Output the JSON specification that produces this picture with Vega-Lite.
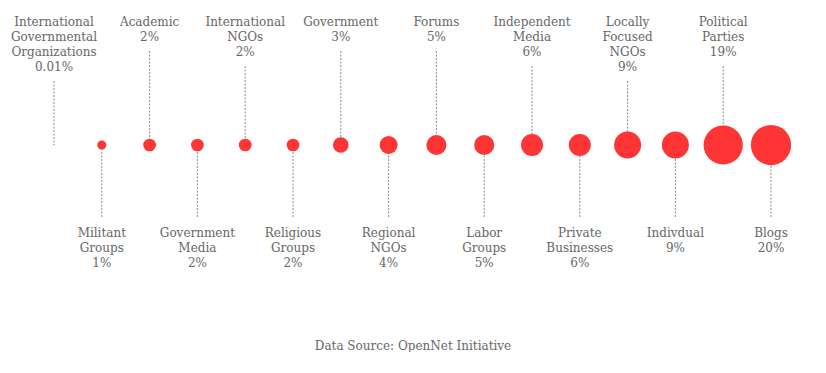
{
  "$schema": "https://vega.github.io/schema/vega-lite/v6.json",
  "width": 826,
  "height": 290,
  "padding": 0,
  "autosize": {"type": "pad"},
  "background": "white",
  "title": {
    "text": "Data Source: OpenNet Initiative",
    "orient": "bottom",
    "anchor": "middle",
    "offset": 51,
    "font": "DejaVu Serif",
    "fontSize": 12,
    "fontWeight": "normal",
    "color": "#666666"
  },
  "data": {
    "values": [
      {"rank": 1, "name": "International Governmental Organizations", "value": 0.01, "side": "top", "lines": ["International", "Governmental", "Organizations", "0.01%"]},
      {"rank": 2, "name": "Militant Groups", "value": 1, "side": "bottom", "lines": ["Militant", "Groups", "1%"]},
      {"rank": 3, "name": "Academic", "value": 2, "side": "top", "lines": ["Academic", "2%"]},
      {"rank": 4, "name": "Government Media", "value": 2, "side": "bottom", "lines": ["Government", "Media", "2%"]},
      {"rank": 5, "name": "International NGOs", "value": 2, "side": "top", "lines": ["International", "NGOs", "2%"]},
      {"rank": 6, "name": "Religious Groups", "value": 2, "side": "bottom", "lines": ["Religious", "Groups", "2%"]},
      {"rank": 7, "name": "Government", "value": 3, "side": "top", "lines": ["Government", "3%"]},
      {"rank": 8, "name": "Regional NGOs", "value": 4, "side": "bottom", "lines": ["Regional", "NGOs", "4%"]},
      {"rank": 9, "name": "Forums", "value": 5, "side": "top", "lines": ["Forums", "5%"]},
      {"rank": 10, "name": "Labor Groups", "value": 5, "side": "bottom", "lines": ["Labor", "Groups", "5%"]},
      {"rank": 11, "name": "Independent Media", "value": 6, "side": "top", "lines": ["Independent", "Media", "6%"]},
      {"rank": 12, "name": "Private Businesses", "value": 6, "side": "bottom", "lines": ["Private", "Businesses", "6%"]},
      {"rank": 13, "name": "Locally Focused NGOs", "value": 9, "side": "top", "lines": ["Locally", "Focused", "NGOs", "9%"]},
      {"rank": 14, "name": "Indivdual", "value": 9, "side": "bottom", "lines": ["Indivdual", "9%"]},
      {"rank": 15, "name": "Political Parties", "value": 19, "side": "top", "lines": ["Political", "Parties", "19%"]},
      {"rank": 16, "name": "Blogs", "value": 20, "side": "bottom", "lines": ["Blogs", "20%"]}
    ]
  },
  "encoding": {
    "x": {"field": "rank", "type": "quantitative", "scale": {"domain": [1, 16], "range": [54, 771]}, "axis": null}
  },
  "layer": [
    {
      "transform": [
        {"filter": {"field": "side", "equal": "top"}},
        {"flatten": ["lines"], "as": ["line"]},
        {"aggregate": [{"op": "count", "as": "n"}], "groupby": ["rank"]}
      ],
      "mark": {"type": "rule", "color": "#8a8a8a", "strokeWidth": 1, "strokeDash": [2, 1.5]},
      "encoding": {
        "y": {"field": "n", "type": "quantitative", "scale": {"domain": [0, 8], "range": [21, 141]}, "axis": null},
        "y2": {"value": 145}
      }
    },
    {
      "transform": [{"filter": {"field": "side", "equal": "bottom"}}],
      "mark": {"type": "rule", "color": "#8a8a8a", "strokeWidth": 1, "strokeDash": [2, 1.5]},
      "encoding": {
        "y": {"value": 145},
        "y2": {"value": 217}
      }
    },
    {
      "mark": {"type": "circle", "opacity": 1, "color": "#ff3535"},
      "encoding": {
        "size": {"field": "value", "type": "quantitative", "scale": {"domain": [0, 20], "range": [0, 1620], "zero": true}, "legend": null}
      }
    },
    {
      "transform": [
        {"filter": {"field": "side", "equal": "top"}},
        {"flatten": ["lines"], "as": ["line"]},
        {"window": [{"op": "row_number", "as": "i"}], "groupby": ["rank"]}
      ],
      "mark": {"type": "text", "font": "DejaVu Serif", "fontSize": 12, "color": "#666666", "baseline": "middle", "align": "center"},
      "encoding": {
        "y": {"field": "i", "type": "quantitative", "scale": {"domain": [1, 4], "range": [22, 67]}, "axis": null},
        "text": {"field": "line", "type": "nominal"}
      }
    },
    {
      "transform": [
        {"filter": {"field": "side", "equal": "bottom"}},
        {"flatten": ["lines"], "as": ["line"]},
        {"window": [{"op": "row_number", "as": "i"}], "groupby": ["rank"]}
      ],
      "mark": {"type": "text", "font": "DejaVu Serif", "fontSize": 12, "color": "#666666", "baseline": "middle", "align": "center"},
      "encoding": {
        "y": {"field": "i", "type": "quantitative", "scale": {"domain": [1, 4], "range": [233, 278]}, "axis": null},
        "text": {"field": "line", "type": "nominal"}
      }
    }
  ],
  "resolve": {"scale": {"y": "independent"}},
  "config": {"view": {"stroke": null}}
}
